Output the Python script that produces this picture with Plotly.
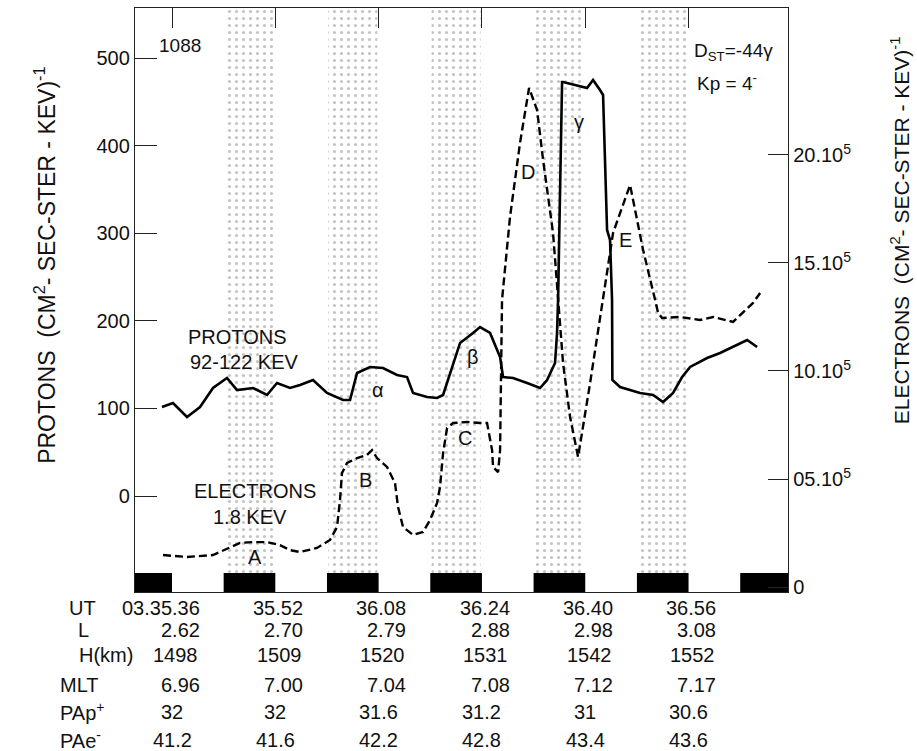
import plotly.graph_objects as go

# ---- data (time in seconds after 03:35:00 UT) ----
proton_t = [34.45, 36.15, 38.32, 40.34, 42.35, 44.52, 46.07, 48.55, 50.72, 52.26, 54.28, 55.83,
            57.84, 60.01, 62.49, 63.57, 64.66, 66.67, 68.68, 70.85, 72.40, 73.33, 75.50, 77.05,
            77.98, 79.53, 80.61, 82.62, 83.71, 85.26, 86.81, 87.27, 88.82, 90.99, 93.00, 94.09,
            95.32, 95.63, 95.79, 96.41, 96.56, 100.28, 101.21, 102.29, 102.76, 103.38, 103.84,
            104.15, 104.20, 105.39, 108.49, 110.50, 112.05, 113.60, 115.00, 116.24, 118.87,
            120.88, 122.90, 125.07, 126.62]
proton_flux = [101.6, 106.2, 90.2, 101.6, 123.3, 134.7, 121.0, 123.3, 115.3, 129.0, 123.3, 126.7,
               132.4, 117.6, 109.6, 109.6, 140.4, 147.3, 146.1, 138.1, 135.8, 117.6, 113.0, 111.9,
               115.3, 151.8, 174.7, 186.1, 192.9, 186.1, 158.7, 135.8, 134.7, 129.0, 123.3, 132.4,
               151.8, 186.1, 223.7, 472.6, 472.6, 465.8, 474.9, 463.5, 457.8, 303.7, 292.2,
               223.7, 132.4, 124.4, 117.6, 115.3, 107.3, 117.6, 135.8, 147.3, 157.5,
               163.2, 170.1, 178.1, 170.1]

electron_t = [34.61, 38.32, 42.35, 44.98, 46.53, 48.55, 50.72, 52.73, 54.28, 55.83, 58.46, 60.47,
              61.56, 62.02, 62.33, 63.11, 64.66, 66.20, 66.98, 67.75, 69.30, 70.54, 71.01, 71.78,
              73.33, 74.88, 75.96, 77.05, 77.51, 77.98, 78.60, 79.53, 81.69, 83.71, 84.79, 85.57,
              85.72, 86.50, 86.81, 87.11, 88.35, 89.90, 91.30, 92.54, 93.47, 95.01, 95.79, 96.56,
              97.65, 98.89, 100.75, 102.76, 104.31, 106.94, 108.96, 110.82, 111.28, 111.90,
              114.69, 117.78, 119.80, 122.90, 124.44, 125.99, 127.08]
electron_flux = [1.48e5, 1.39e5, 1.48e5, 1.81e5, 2.04e5, 2.08e5, 2.08e5, 1.94e5, 1.71e5, 1.62e5,
                 1.81e5, 2.18e5, 2.78e5, 4.03e5, 5.28e5, 5.74e5, 5.97e5, 6.11e5, 6.34e5, 5.97e5,
                 5.56e5, 4.81e5, 3.70e5, 2.78e5, 2.41e5, 2.55e5, 3.10e5, 3.89e5, 4.63e5, 6.20e5,
                 7.36e5, 7.59e5, 7.64e5, 7.59e5, 7.59e5, 6.34e5, 5.56e5, 5.32e5, 6.34e5, 13.29e5,
                 17.13e5, 20.56e5, 23.10e5, 22.08e5, 19.77e5, 16.39e5, 13.29e5, 10.37e5, 7.87e5,
                 6.02e5, 9.44e5, 13.29e5, 16.39e5, 18.61e5, 15.60e5, 13.29e5, 12.69e5, 12.45e5,
                 12.50e5, 12.36e5, 12.50e5, 12.27e5, 12.69e5, 13.15e5, 13.61e5]

# time marks (end of each 8-s black interval) and stippled intervals
bar_end_t = [36, 52, 68, 84, 100, 116, 132]
stipple_end_t = [52, 68, 84, 100, 116]
interval_s = 8

# table beneath the plot
ut_labels = ["03.35.36", "35.52", "36.08", "36.24", "36.40", "36.56"]
ut_t = [36, 52, 68, 84, 100, 116]
L_vals = ["2.62", "2.70", "2.79", "2.88", "2.98", "3.08"]
H_vals = ["1498", "1509", "1520", "1531", "1542", "1552"]
MLT_vals = ["6.96", "7.00", "7.04", "7.08", "7.12", "7.17"]
PAp_vals = ["32", "32", "31.6", "31.2", "31", "30.6"]
PAe_vals = ["41.2", "41.6", "42.2", "42.8", "43.4", "43.6"]

prot_ticks = [0, 100, 200, 300, 400, 500]
elec_ticks = [0, 5e5, 10e5, 15e5, 20e5]
elec_ticktext = ["0", "05.10<sup>5</sup>", "10.10<sup>5</sup>", "15.10<sup>5</sup>", "20.10<sup>5</sup>"]

FONT = "Liberation Sans, Arial, sans-serif"
Y1 = [-109.6, 557.1]
Y2 = [-0.23e5, 26.8e5]
X = [30.27, 131.4]

fig = go.Figure()

# stippled bands
fig.add_trace(go.Bar(
    x=[t - interval_s / 2 for t in stipple_end_t],
    y=[Y1[1] + 88.0] * len(stipple_end_t),
    base=-88.0, width=interval_s * 0.95,
    marker=dict(color="white", line=dict(width=0),
                pattern=dict(shape=".", fgcolor="#c4c4c4", bgcolor="white",
                             size=7, solidity=0.16, fillmode="replace")),
    hoverinfo="skip", showlegend=False))

# black time bars
fig.add_trace(go.Bar(
    x=[t - interval_s / 2 for t in bar_end_t],
    y=[21.7] * len(bar_end_t),
    base=Y1[0], width=interval_s,
    marker=dict(color="black", line=dict(width=0)),
    hoverinfo="skip", showlegend=False))

# protons (solid)
fig.add_trace(go.Scatter(
    x=proton_t, y=proton_flux, mode="lines",
    line=dict(color="black", width=2.6), showlegend=False))

# electrons (dashed) on right axis
fig.add_trace(go.Scatter(
    x=electron_t, y=electron_flux, mode="lines", yaxis="y2",
    line=dict(color="black", width=2.4, dash="8px,4px"), showlegend=False))

fig.update_layout(
    width=917, height=751,
    margin=dict(l=135, r=129, t=8, b=159),
    paper_bgcolor="white", plot_bgcolor="white",
    font=dict(family=FONT, size=19, color="#111"),
    barmode="overlay",
    xaxis=dict(range=X, side="top", showline=True, mirror=True, linecolor="#222", linewidth=1.3,
               ticks="inside", ticklen=20, tickwidth=1.3, tickcolor="#222",
               tickvals=ut_t, showticklabels=False, showgrid=False, zeroline=False),
    yaxis=dict(range=Y1, showline=True, linecolor="#222", linewidth=1.3,
               ticks="inside", ticklen=22, tickwidth=1.3, tickcolor="#222",
               tickvals=prot_ticks, ticktext=[str(v) for v in prot_ticks],
               tickfont=dict(size=20), showgrid=False, zeroline=False),
    yaxis2=dict(range=Y2, overlaying="y", side="right", showline=True, linecolor="#222",
                linewidth=1.3, ticks="inside", ticklen=20, tickwidth=1.3, tickcolor="#222",
                tickvals=elec_ticks, ticktext=elec_ticktext, tickfont=dict(size=20),
                showgrid=False, zeroline=False),
)

ann = []

def txt(x, y, s, size=20, xref="x", yref="y", xanchor="center", yanchor="middle", angle=0):
    ann.append(dict(x=x, y=y, xref=xref, yref=yref, text=s, showarrow=False,
                    xanchor=xanchor, yanchor=yanchor, textangle=angle,
                    font=dict(family=FONT, size=size, color="#111")))

# axis titles
txt(-0.138, 0.56, "PROTONS  (CM<sup>2</sup>- SEC-STER - KEV)<sup>-1</sup>", size=23,
    xref="paper", yref="paper", angle=-90)
txt(1.172, 0.62, "ELECTRONS  (CM<sup>2</sup>- SEC-STER - KEV)<sup>-1</sup>", size=21,
    xref="paper", yref="paper", angle=-90)

# in-plot labels
txt(37.2, 514.8, "1088", size=19)
txt(122.9, 506.8, "D<sub>ST</sub>=-44γ", size=19)
txt(122.0, 472.6, "Kp = 4<sup>-</sup>", size=19)
txt(46.1, 181.5, "PROTONS", size=20)
txt(47.3, 153.0, "92-122 KEV", size=20)
txt(48.9, 5.7, "ELECTRONS", size=20)
txt(48.1, -24.0, "1.8 KEV", size=20)
for lab, tx, py in [("A", 48.9, -69.6), ("B", 65.9, 18.3), ("C", 81.4, 66.2), ("D", 91.1, 369.9),
                    ("E", 106.2, 292.2), ("α", 67.9, 121.0), ("β", 82.6, 158.7), ("γ", 99.0, 427.0)]:
    txt(tx, py, lab, size=20)

# table below plot
row_y = {"UT": -0.0274, "L": -0.065, "H": -0.108, "MLT": -0.159, "PAp": -0.205, "PAe": -0.253}
txt(-0.081, row_y["UT"], "UT", xref="paper", yref="paper")
txt(-0.079, row_y["L"], "L", xref="paper", yref="paper")
txt(-0.089, row_y["H"], "H(km)", xref="paper", yref="paper", xanchor="left")
txt(-0.118, row_y["MLT"], "MLT", xref="paper", yref="paper", xanchor="left")
txt(-0.118, row_y["PAp"], "PAp<sup>+</sup>", xref="paper", yref="paper", xanchor="left")
txt(-0.118, row_y["PAe"], "PAe<sup>-</sup>", xref="paper", yref="paper", xanchor="left")
for i, t in enumerate(ut_t):
    txt(t + 4.6, row_y["UT"], ut_labels[i], yref="paper", xanchor="right")
    txt(t + 4.6, row_y["L"], L_vals[i], yref="paper", xanchor="right")
    txt(t + 4.4, row_y["H"], H_vals[i], yref="paper", xanchor="right")
    txt(t + 4.6, row_y["MLT"], MLT_vals[i], yref="paper", xanchor="right")
    txt(t, row_y["PAp"], PAp_vals[i], yref="paper")
    txt(t, row_y["PAe"], PAe_vals[i], yref="paper")

fig.update_layout(annotations=ann)
fig.write_html("out.html")
